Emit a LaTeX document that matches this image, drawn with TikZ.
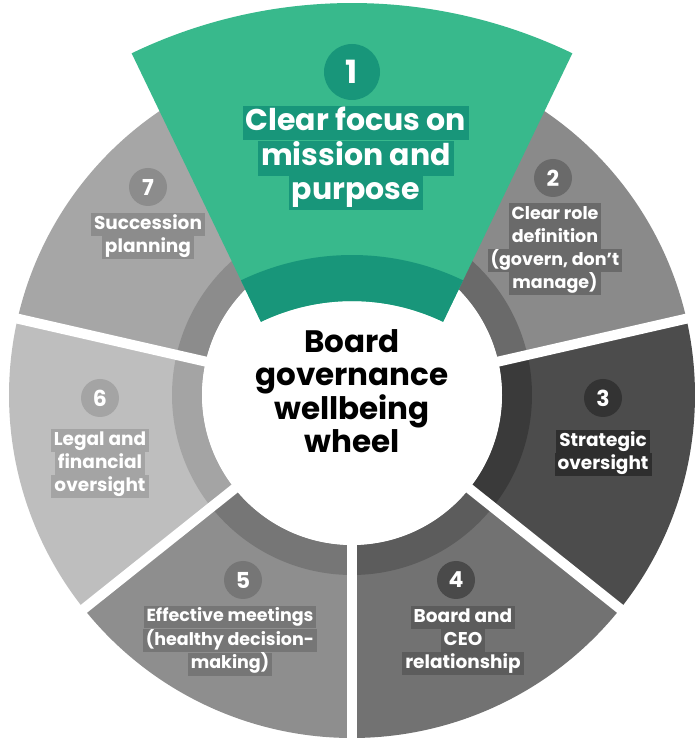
\documentclass[tikz,border=0pt]{standalone}
\usepackage{fontspec}
\setmainfont{Poppins}
\begin{document}
\begin{tikzpicture}[x=1pt,y=1pt,
  num/.style={circle,minimum size=38pt,inner sep=0pt,text=white,font=\bfseries\fontsize{22}{22}\selectfont},
  lbl/.style={align=center,inner sep=0pt,text=white,font=\bfseries\fontsize{18.5}{23}\selectfont},
  gap/.style={white,line width=10pt}]
\definecolor{tA}{HTML}{38B98C}\definecolor{tB}{HTML}{18967A}
\definecolor{gTwo}{HTML}{8A8A8A}\definecolor{gTwoB}{HTML}{6A6A6A}
\definecolor{gThree}{HTML}{4C4C4C}\definecolor{gThreeB}{HTML}{3A3A3A}
\definecolor{gFour}{HTML}{727272}\definecolor{gFourB}{HTML}{5C5C5C}
\definecolor{gFive}{HTML}{8E8E8E}\definecolor{gFiveB}{HTML}{767676}
\definecolor{gSix}{HTML}{BEBEBE}\definecolor{gSixB}{HTML}{A4A4A4}
\definecolor{gSeven}{HTML}{A6A6A6}\definecolor{gSevenB}{HTML}{8C8C8C}
\newcommand\hb[2]{\setlength\fboxsep{0pt}\colorbox{#1}{\strut\hspace{3pt}#2\hspace{3pt}}}
\newcommand\sect[5]{% color, a1, a2, r, R
  \fill[#1] (#2:#5) arc[start angle=#2,end angle=#3,radius=#5] -- (#3:#4) arc[start angle=#3,end angle=#2,radius=#4] -- cycle;}
\useasboundingbox (0,0) rectangle (700,742);
\fill[white] (0,0) rectangle (700,742);
\begin{scope}[shift={(352,347)}]
  \sect{gTwo}{12.86}{64.29}{150}{343}
  \sect{gTwoB}{12.86}{64.29}{150}{180}
  \sect{gThree}{-38.57}{12.86}{150}{343}
  \sect{gThreeB}{-38.57}{12.86}{150}{180}
  \sect{gFour}{-90}{-38.57}{150}{343}
  \sect{gFourB}{-90}{-38.57}{150}{180}
  \sect{gFive}{-141.43}{-90}{150}{343}
  \sect{gFiveB}{-141.43}{-90}{150}{180}
  \sect{gSix}{-192.86}{-141.43}{150}{343}
  \sect{gSixB}{-192.86}{-141.43}{150}{180}
  \sect{gSeven}{115.71}{167.14}{150}{343}
  \sect{gSevenB}{115.71}{167.14}{150}{180}
  \foreach \a in {12.86,-38.57,-90,-141.43,-192.86,64.29,115.71}
    \draw[gap] (\a:140) -- (\a:360);
  \fill[white] (0,0) circle[radius=150];
\end{scope}
\begin{scope}[shift={(352,231)}]
  \sect{tA}{64.29}{115.71}{210}{508}
  \sect{tB}{64.29}{115.71}{210}{256}
\end{scope}
% numbers
\node[num,fill=tB,minimum size=56pt] (n1) at (352,670) {\fontsize{32}{32}\selectfont 1};
\node[num,fill=gTwoB] (n2) at (553,564) {2};
\node[num,fill=black!80] (n3) at (603,344) {3};
\node[num,fill=gFourB!80!black] (n4) at (456,162) {4};
\node[num,fill=gFiveB] (n5) at (243,162) {5};
\node[num,fill=gSixB] (n6) at (100,344) {6};
\node[num,fill=gSevenB] (n7) at (148,555) {7};
% labels
\node[lbl,font=\bfseries\fontsize{30}{34}\selectfont] (l1) at (356,584) {\hb{tB}{Clear focus on}\\\hb{tB}{mission and}\\\hb{tB}{purpose}};
\node[lbl,font=\bfseries\fontsize{17.5}{23}\selectfont] (l2) at (555,493) {\hb{gTwoB}{Clear role}\\\hb{gTwoB}{definition}\\\hb{gTwoB}{(govern, don’t}\\\hb{gTwoB}{manage)}};
\node[lbl] (l3) at (603,289) {\hb{gThreeB!80!black}{Strategic}\\\hb{gThreeB!80!black}{oversight}};
\node[lbl] (l4) at (463,101) {\hb{gFourB}{Board and}\\\hb{gFourB}{CEO}\\\hb{gFourB}{relationship}};
\node[lbl,font=\bfseries\fontsize{17.5}{22}\selectfont] (l5) at (230,101) {\hb{gFiveB}{Effective meetings}\\\hb{gFiveB}{(healthy decision-}\\\hb{gFiveB}{making)}};
\node[lbl] (l6) at (100,278) {\hb{gSixB}{Legal and}\\\hb{gSixB}{financial}\\\hb{gSixB}{oversight}};
\node[lbl] (l7) at (148,506) {\hb{gSevenB}{Succession}\\\hb{gSevenB}{planning}};
\node[align=center,font=\bfseries\fontsize{31}{33}\selectfont] (c) at (352,351) {Board\\governance\\wellbeing\\wheel};
\end{tikzpicture}
\end{document}
